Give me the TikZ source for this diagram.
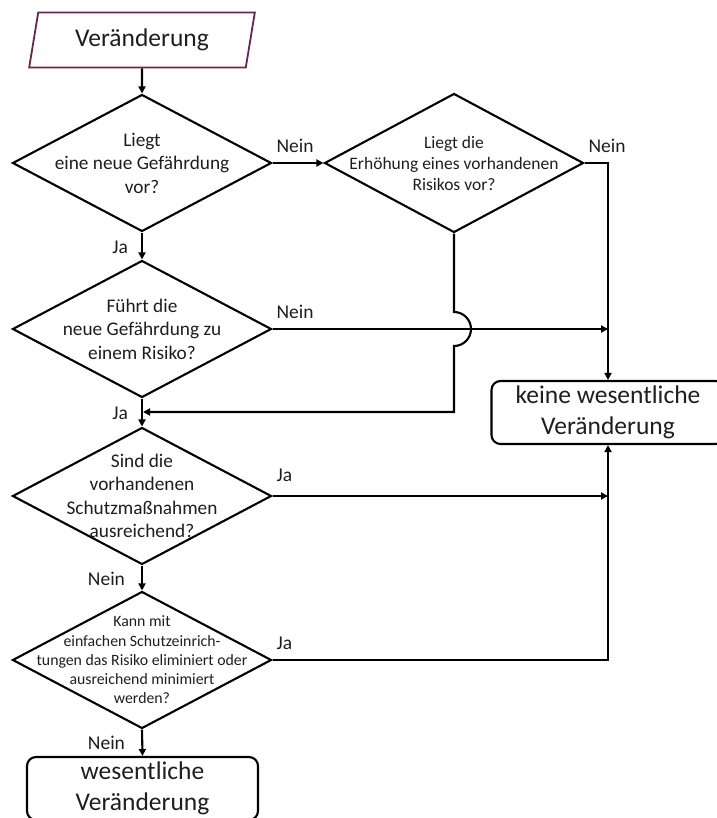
\documentclass[tikz,border=0pt]{standalone}
\usepackage{fontspec}
\setmainfont{Carlito}
\usetikzlibrary{positioning, arrows.meta, shapes.geometric, calc}
\definecolor{frame}{RGB}{100, 40, 80}
\definecolor{ink}{RGB}{30, 30, 30}

\begin{document}
\begin{tikzpicture}[
    x=1pt, y=-1pt,
    line width=2.1pt,
    every node/.style={text=ink},
    input/.style={draw=frame, line width=1.8pt, trapezium, trapezium left angle=78, trapezium right angle=102, trapezium stretches=true, minimum width=226pt, minimum height=55pt, font=\fontsize{25.5}{30}\selectfont},
    decision/.style={draw, diamond, minimum width=259pt, minimum height=137pt, inner sep=0pt},
    qtext/.style={align=center, font=\fontsize{19.3}{23.5}\selectfont},
    result/.style={draw, rounded corners=9pt, minimum width=233pt, minimum height=63pt, align=center, font=\fontsize{25.5}{30.5}\selectfont},
    flow/.style={-{Triangle[length=7pt, width=7pt]}},
    lbl/.style={inner sep=1pt, font=\fontsize{19.5}{23}\selectfont}
]
    \useasboundingbox (0,0) rectangle (716,818);

    \node[input] (start) at (142,40) {Veränderung};
    \node[decision, label={[qtext]center:Liegt\\eine neue Gefährdung\\vor?}] (q1) at (142,163) {};
    \node[decision, minimum height=139pt, label={[qtext, font=\fontsize{17.5}{21}\selectfont]center:Liegt die\\Erhöhung eines vorhandenen\\Risikos vor?}] (q2) at (454,163) {};
    \node[decision, label={[qtext]center:Führt die\\neue Gefährdung zu\\einem Risiko?}] (q3) at (142,329) {};
    \node[decision, label={[qtext]center:Sind die\\vorhandenen\\Schutzmaßnahmen\\ausreichend?}] (q4) at (142,496) {};
    \node[decision, label={[qtext, font=\fontsize{15.8}{19.3}\selectfont]center:Kann mit\\einfachen Schutzeinrich-\\tungen das Risiko eliminiert oder\\ausreichend minimiert\\werden?}] (q5) at (142,660) {};

    \node[result] (none) at (608,412.5) {keine wesentliche\\Veränderung};
    \node[result, minimum width=231pt] (major) at (142.5,788.5) {wesentliche\\Veränderung};

    \coordinate (merge) at (142,412);

    \draw[flow] (start) -- (q1);
    \draw[flow] (q1.east) -- node[lbl, above right=8pt and 2pt, pos=0] {Nein} (q2.west);
    \draw[flow] (q1.south) -- node[lbl, below left=6pt and 12pt, pos=0] {Ja} (q3.north);
    \draw[flow] (q2.east) -| node[lbl, above right=8pt and 2pt, pos=0] {Nein} (none.north);
    \draw[flow] (q3.east) -- node[lbl, above right=8pt and 2pt, pos=0] {Nein} (none.north |- q3.east);
    % Ja-Zweig springt ueber die Nein-Linie
    \draw[flow, shorten >=1pt] (q2.south) -- ($(q2.south |- q3.east)+(0,-17)$)
        arc[start angle=90, end angle=-90, radius=17pt] -- (q2.south |- merge) -- (merge);
    \draw[flow] (q3.south) -- node[lbl, below left=6pt and 12pt, pos=0] {Ja} (q4.north);
    \draw[flow] (q4.east) -- node[lbl, above right=12pt and 2pt, pos=0] {Ja} (none.south |- q4.east);
    \draw[flow] (q4.south) -- node[lbl, below left=4pt and 15pt, pos=0] {Nein} (q5.north);
    \draw[flow] (q5.east) -| node[lbl, above right=8pt and 2pt, pos=0] {Ja} (none.south);
    \draw[flow] (q5.south) -- node[lbl, below left=4pt and 15pt, pos=0] {Nein} (major.north);
\end{tikzpicture}
\end{document}
